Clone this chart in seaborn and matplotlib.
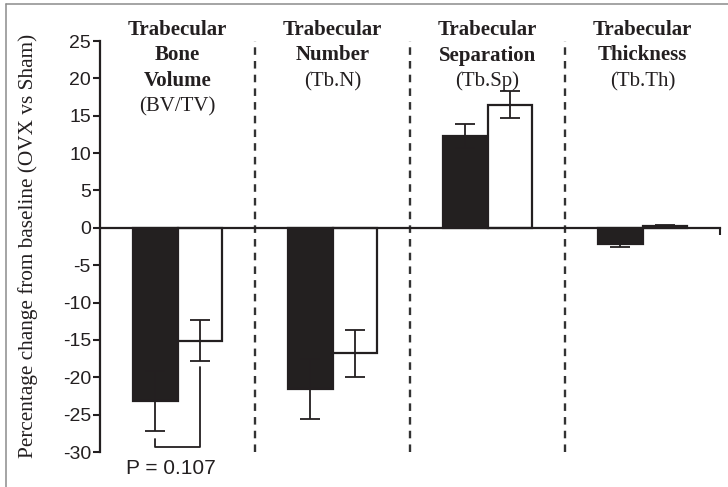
import matplotlib
matplotlib.use("Agg")
import matplotlib.pyplot as plt
import pandas as pd
import seaborn as sns
from matplotlib.lines import Line2D
from matplotlib.transforms import blended_transform_factory

# ---- data -------------------------------------------------------------
parameters = ["BV/TV", "Tb.N", "Tb.Sp", "Tb.Th"]
title_lines = [
    ["Trabecular", "Bone", "Volume"],
    ["Trabecular", "Number"],
    ["Trabecular", "Separation"],
    ["Trabecular", "Thickness"],
]
abbreviations = ["(BV/TV)", "(Tb.N)", "(Tb.Sp)", "(Tb.Th)"]
series = ["Group A", "Group B"]
solid_change = [-23.2, -21.6, 12.3, -2.2]
solid_sem = [4.0, 4.0, 1.6, 0.3]
open_change = [-15.1, -16.8, 16.5, 0.3]
open_sem = [2.7, 3.1, 1.8, 0.1]
y_ticks = [25, 20, 15, 10, 5, 0, -5, -10, -15, -20, -25, -30]
p_label = "P = 0.107"
bracket_left_top, bracket_right_top, bracket_bottom = -28.2, -18.6, -29.3

df = pd.DataFrame({
    "parameter": parameters * 2,
    "series": [series[0]] * 4 + [series[1]] * 4,
    "change": solid_change + open_change,
})

# ---- style ------------------------------------------------------------
sns.set_style("ticks")
plt.rcParams["font.family"] = ["Liberation Sans", "DejaVu Sans"]
INK = "#231f20"
SERIF = ["Liberation Serif", "DejaVu Serif"]

W, H = 728, 487
fig = plt.figure(figsize=(W / 100, H / 100), dpi=100)
ax = fig.add_axes([100 / W, (H - 452) / H, 620 / W, 411 / H])

sns.barplot(
    data=df, x="parameter", y="change", hue="series",
    order=parameters, hue_order=series,
    palette=[INK, "white"], width=0.58, gap=0,
    edgecolor=INK, linewidth=1.6, errorbar=None, legend=False,
    ax=ax, zorder=2,
)

# error bars (SEM) at the bar centres seaborn laid out
centres = []
for container, means, sems in zip(ax.containers, [solid_change, open_change],
                                  [solid_sem, open_sem]):
    xs = [b.get_x() + b.get_width() / 2 for b in container]
    centres.append(xs)
    ax.errorbar(xs, means, yerr=sems, fmt="none", ecolor=INK,
                elinewidth=1.3, capsize=7, capthick=1.3, zorder=3)

# group separators
ax.vlines([0.5, 1.5, 2.5], -30, 25, colors="#333333", linewidth=1.7,
          linestyles=(0, (3.2, 2.6)), zorder=1)

# significance bracket between the two BV/TV bars
xb, xo = centres[0][0], centres[1][0]
ax.plot([xb, xb, xo, xo],
        [bracket_left_top, bracket_bottom, bracket_bottom, bracket_right_top],
        color=INK, linewidth=1.3, zorder=3, clip_on=False)
ax.text((xb + xo) / 2 - 0.04, 1 - 468 / H, p_label,
        transform=blended_transform_factory(ax.transData, fig.transFigure),
        ha="center", va="center", fontsize=15, color=INK)

# axes
ax.set_xlim(-0.5, 3.5)
ax.set_ylim(-30, 25)
ax.set_yticks(y_ticks)
ax.set_yticklabels([str(t) for t in y_ticks])
ax.set_xticks([3.5])
ax.set_xticklabels([""])
ax.set_xlabel("")
ax.set_ylabel("")
for side in ("top", "right"):
    ax.spines[side].set_visible(False)
ax.spines["bottom"].set_position(("data", 0))
ax.spines["left"].set_bounds(-30, 25)
for side in ("left", "bottom"):
    ax.spines[side].set_linewidth(1.6)
    ax.spines[side].set_color(INK)
ax.tick_params(axis="y", direction="out", length=5, width=1.5, pad=1.5,
               labelsize=14, color=INK, labelcolor=INK)
ax.tick_params(axis="x", direction="out", length=5, width=1.5, color=INK)

# group headings above the plot
tr = blended_transform_factory(ax.transData, fig.transFigure)
for i, (lines, abbr) in enumerate(zip(title_lines, abbreviations)):
    for j, line in enumerate(lines):
        ax.text(i, 1 - (35 + 25.5 * j) / H, line, transform=tr, ha="center",
                va="baseline", fontsize=15, fontweight="bold",
                family=SERIF, color=INK)
    ax.text(i, 1 - (35 + 25.5 * len(lines)) / H, abbr, transform=tr,
            ha="center", va="baseline", fontsize=15, family=SERIF, color=INK)

fig.text(28 / W, 1 - 246 / H, "Percentage change from baseline (OVX vs Sham)",
         rotation=90, ha="center", va="center", fontsize=15.3,
         family=SERIF, color=INK)

# thin grey frame on the top and left edges
fig.add_artist(Line2D([6 / W, 6 / W], [0, 1 - 4 / H], transform=fig.transFigure,
                      color="#8c8c8c", linewidth=1.1))
fig.add_artist(Line2D([6 / W, 1], [1 - 4 / H, 1 - 4 / H], transform=fig.transFigure,
                      color="#8c8c8c", linewidth=1.1))

fig.savefig("out.png", dpi=100, facecolor="white")
